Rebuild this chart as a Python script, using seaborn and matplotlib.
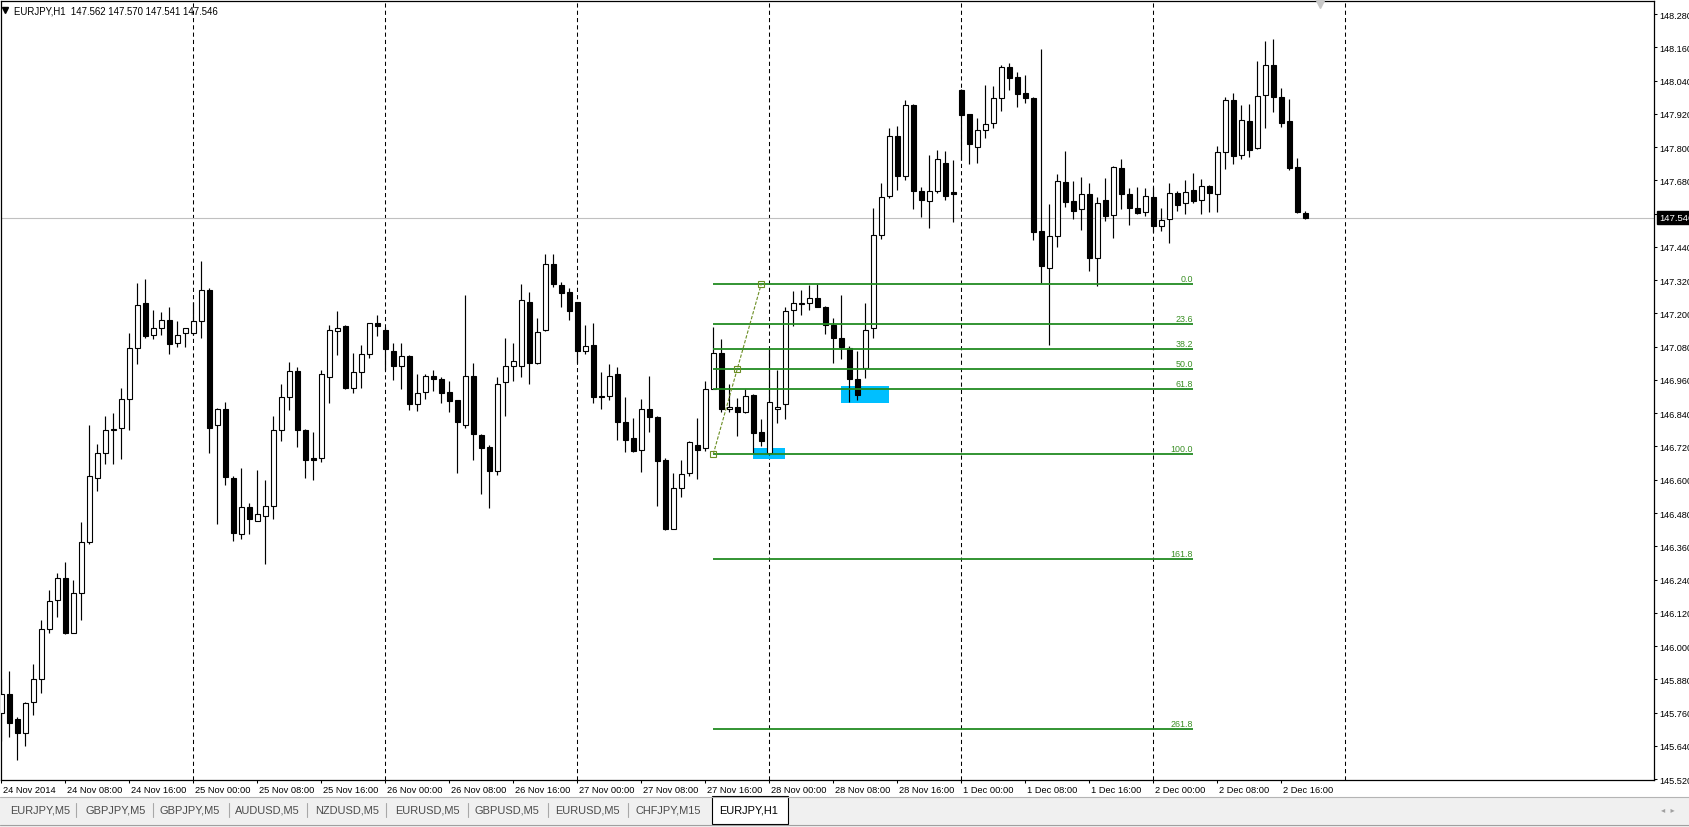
import matplotlib
matplotlib.use('Agg')
import matplotlib.pyplot as plt
import matplotlib.transforms as mtransforms
from matplotlib.patches import Rectangle
from matplotlib.lines import Line2D
import pandas as pd
import seaborn as sns

# EURJPY H1 candles, 24 Nov 2014 00:00 -> 2 Dec 19:00
opens = [145.757, 145.829, 145.737, 145.685, 145.797, 145.883, 146.060, 146.165, 146.244, 146.049,
         146.190, 146.376, 146.605, 146.695, 146.780, 146.785, 146.890, 147.074, 147.236, 147.121,
         147.149, 147.175, 147.092, 147.128, 147.128, 147.171, 147.283, 146.799, 146.854, 146.608,
         146.406, 146.500, 146.453, 146.471, 146.507, 146.778, 146.900, 146.991, 146.781, 146.677,
         146.677, 146.969, 147.135, 147.153, 146.932, 146.987, 147.052, 147.167, 147.142, 147.066,
         147.012, 147.048, 146.872, 146.915, 146.976, 146.962, 146.915, 146.886, 146.799, 146.973,
         146.763, 146.717, 146.630, 146.951, 147.009, 147.009, 147.240, 147.023, 147.139, 147.380,
         147.301, 147.276, 147.240, 147.066, 147.085, 146.902, 146.901, 146.980, 146.809, 146.749,
         146.708, 146.857, 146.826, 146.671, 146.424, 146.571, 146.623, 146.726, 146.713, 146.929,
         147.056, 146.856, 146.862, 146.845, 146.905, 146.772, 146.696, 146.854, 146.872, 147.211,
         147.235, 147.236, 147.254, 147.225, 147.157, 147.112, 147.074, 146.965, 147.004, 147.146,
         147.482, 147.622, 147.839, 147.695, 147.951, 147.640, 147.604, 147.643, 147.741, 147.637,
         148.005, 147.918, 147.799, 147.863, 147.888, 147.976, 148.088, 148.052, 147.994, 147.976,
         147.496, 147.363, 147.478, 147.673, 147.604, 147.575, 147.630, 147.401, 147.608, 147.556,
         147.723, 147.630, 147.579, 147.567, 147.619, 147.517, 147.542, 147.633, 147.597, 147.644,
         147.608, 147.658, 147.630, 147.781, 147.969, 147.770, 147.893, 147.796, 147.987, 148.095,
         147.980, 147.893, 147.727, 147.562]
highs = [145.881, 145.909, 145.743, 145.798, 145.935, 146.094, 146.202, 146.263, 146.303, 146.238,
         146.446, 146.797, 146.729, 146.830, 146.840, 146.931, 147.129, 147.309, 147.324, 147.214,
         147.204, 147.222, 147.171, 147.146, 147.243, 147.388, 147.290, 146.858, 146.882, 146.615,
         146.642, 146.516, 146.635, 146.599, 146.830, 146.945, 147.024, 147.005, 146.784, 146.772,
         146.995, 147.158, 147.208, 147.160, 147.057, 147.085, 147.167, 147.194, 147.150, 147.095,
         147.092, 147.050, 146.983, 146.980, 146.995, 146.969, 146.958, 146.888, 147.268, 147.023,
         146.766, 146.724, 146.969, 147.113, 147.092, 147.305, 147.279, 147.185, 147.414, 147.414,
         147.312, 147.291, 147.243, 147.158, 147.167, 146.987, 147.016, 147.005, 146.900, 146.821,
         146.893, 146.976, 146.829, 146.679, 146.626, 146.673, 146.740, 146.821, 146.958, 147.152,
         147.107, 146.945, 146.895, 146.926, 146.910, 146.819, 147.071, 146.997, 147.222, 147.281,
         147.284, 147.302, 147.305, 147.228, 147.182, 147.265, 147.083, 147.064, 147.237, 147.579,
         147.670, 147.869, 147.875, 147.970, 147.955, 147.655, 147.773, 147.788, 147.785, 147.752,
         148.010, 147.921, 147.904, 148.023, 148.019, 148.097, 148.105, 148.072, 148.059, 147.980,
         148.154, 147.595, 147.703, 147.786, 147.676, 147.691, 147.669, 147.619, 147.687, 147.733,
         147.756, 147.651, 147.655, 147.651, 147.655, 147.581, 147.669, 147.640, 147.680, 147.705,
         147.684, 147.665, 147.803, 147.980, 147.994, 147.951, 147.954, 148.109, 148.182, 148.189,
         148.012, 147.972, 147.759, 147.570]
lows = [145.656, 145.673, 145.590, 145.641, 145.752, 145.832, 146.048, 146.106, 146.042, 146.048,
        146.095, 146.370, 146.560, 146.658, 146.658, 146.674, 146.779, 147.018, 147.112, 147.109,
        147.122, 147.054, 147.080, 147.080, 147.122, 147.112, 146.697, 146.441, 146.582, 146.380,
        146.387, 146.405, 146.450, 146.297, 146.458, 146.741, 146.852, 146.719, 146.606, 146.600,
        146.665, 146.876, 147.051, 146.929, 146.914, 146.932, 147.040, 147.119, 146.997, 146.961,
        146.928, 146.852, 146.849, 146.892, 146.921, 146.878, 146.845, 146.625, 146.787, 146.672,
        146.548, 146.499, 146.618, 146.831, 146.957, 146.969, 146.946, 147.016, 147.136, 147.294,
        147.224, 147.178, 147.023, 147.052, 146.878, 146.856, 146.888, 146.744, 146.701, 146.701,
        146.629, 146.773, 146.506, 146.420, 146.421, 146.539, 146.612, 146.603, 146.702, 146.927,
        146.846, 146.843, 146.759, 146.842, 146.696, 146.723, 146.690, 146.806, 146.820, 147.154,
        147.193, 147.211, 147.222, 147.127, 147.022, 147.036, 146.881, 146.888, 146.968, 147.111,
        147.468, 147.615, 147.646, 147.680, 147.578, 147.549, 147.509, 147.636, 147.610, 147.531,
        147.755, 147.740, 147.744, 147.834, 147.870, 147.931, 148.007, 147.946, 147.958, 147.466,
        147.310, 147.087, 147.438, 147.583, 147.542, 147.502, 147.352, 147.298, 147.532, 147.473,
        147.578, 147.520, 147.560, 147.553, 147.495, 147.499, 147.455, 147.571, 147.560, 147.599,
        147.560, 147.567, 147.567, 147.720, 147.738, 147.756, 147.763, 147.793, 147.868, 147.925,
        147.871, 147.716, 147.562, 147.541]
closes = [145.829, 145.723, 145.687, 145.793, 145.883, 146.060, 146.161, 146.244, 146.048, 146.190,
          146.374, 146.612, 146.695, 146.781, 146.782, 146.893, 147.074, 147.232, 147.119, 147.148,
          147.178, 147.090, 147.123, 147.146, 147.171, 147.283, 146.787, 146.854, 146.611, 146.409,
          146.500, 146.457, 146.478, 146.507, 146.778, 146.900, 146.991, 146.780, 146.672, 146.672,
          146.980, 147.142, 147.149, 146.932, 146.987, 147.052, 147.164, 147.153, 147.070, 147.011,
          147.048, 146.874, 146.914, 146.973, 146.962, 146.914, 146.885, 146.809, 146.976, 146.766,
          146.715, 146.630, 146.947, 147.009, 147.027, 147.250, 147.023, 147.134, 147.380, 147.305,
          147.272, 147.207, 147.063, 147.083, 146.897, 146.899, 146.973, 146.809, 146.744, 146.705,
          146.857, 146.827, 146.668, 146.424, 146.571, 146.622, 146.735, 146.708, 146.926, 147.056,
          146.855, 146.864, 146.845, 146.903, 146.769, 146.741, 146.879, 146.864, 147.207, 147.236,
          147.237, 147.254, 147.225, 147.157, 147.112, 147.080, 146.965, 146.907, 147.139, 147.484,
          147.619, 147.839, 147.695, 147.951, 147.643, 147.610, 147.643, 147.758, 147.625, 147.630,
          147.917, 147.812, 147.860, 147.884, 147.976, 148.088, 148.050, 147.993, 147.976, 147.495,
          147.372, 147.480, 147.676, 147.603, 147.571, 147.630, 147.401, 147.597, 147.553, 147.727,
          147.630, 147.579, 147.563, 147.622, 147.517, 147.538, 147.633, 147.592, 147.637, 147.604,
          147.658, 147.633, 147.781, 147.969, 147.767, 147.897, 147.788, 147.983, 148.095, 147.980,
          147.886, 147.723, 147.565, 147.546]

time_labels = ['24 Nov 2014', '24 Nov 08:00', '24 Nov 16:00', '25 Nov 00:00', '25 Nov 08:00',
               '25 Nov 16:00', '26 Nov 00:00', '26 Nov 08:00', '26 Nov 16:00', '27 Nov 00:00',
               '27 Nov 08:00', '27 Nov 16:00', '28 Nov 00:00', '28 Nov 08:00', '28 Nov 16:00',
               '1 Dec 00:00', '1 Dec 08:00', '1 Dec 16:00', '2 Dec 00:00', '2 Dec 08:00', '2 Dec 16:00']
price_ticks = [145.52, 145.64, 145.76, 145.88, 146.00, 146.12, 146.24, 146.36, 146.48, 146.60,
               146.72, 146.84, 146.96, 147.08, 147.20, 147.32, 147.44, 147.56, 147.68, 147.80,
               147.92, 148.04, 148.16, 148.28]
day_starts = [24, 48, 72, 96, 120, 144, 168]

# fibonacci retracement (anchor bars / prices) and the two marked zones
fib_levels = [0.0, 23.6, 38.2, 50.0, 61.8, 100.0, 161.8, 261.8]
fib_low, fib_high = 146.693, 147.307
fib_bar_low, fib_bar_high, fib_bar_end = 89, 95, 149
zones = [(94, 98, 146.675, 146.714), (105, 111, 146.877, 146.938)]

last_price = 147.546
header = 'EURJPY,H1  147.562 147.570 147.541 147.546'
tab_names = ['EURJPY,M5', 'GBPJPY,M5', 'GBPJPY,M5', 'AUDUSD,M5', 'NZDUSD,M5',
             'EURUSD,M5', 'GBPUSD,M5', 'EURUSD,M5', 'CHFJPY,M15', 'EURJPY,H1']

df = pd.DataFrame({'open': opens, 'high': highs, 'low': lows, 'close': closes})
df['bar'] = range(len(df))
df['up'] = df['close'] >= df['open']
df['body_lo'] = df[['open', 'close']].min(axis=1)
df['body_h'] = (df['close'] - df['open']).abs().clip(lower=0.0015)

sns.set_theme(style='white')
plt.rcParams['font.family'] = ['Liberation Sans', 'DejaVu Sans']

W, H = 1690, 828
fig = plt.figure(figsize=(W / 100, H / 100), dpi=100)
fig.patch.set_facecolor('white')
ax = fig.add_axes([1 / W, 47 / H, 1653 / W, 779 / H])
ax.set_facecolor('white')

# day separators, current price line, zones
for d in day_starts:
    ax.axvline(d, color='black', lw=0.75, ls=(0, (4, 3)), zorder=1)
ax.axhline(last_price, color='#c0c0c0', lw=0.8, zorder=1)
for x0, x1, p0, p1 in zones:
    ax.add_patch(Rectangle((x0, p0), x1 - x0, p1 - p0, facecolor='#00bfff', lw=0, zorder=2))

# candles
ax.vlines(df['bar'], df['low'], df['high'], color='black', lw=0.85, zorder=3)
ax.bar(df['bar'], df['body_h'], bottom=df['body_lo'], width=0.56,
       color=['white' if u else 'black' for u in df['up']], edgecolor='black', linewidth=0.8, zorder=4)

# fibo
rng = fib_high - fib_low
for lvl in fib_levels:
    p = fib_high - lvl / 100 * rng
    ax.hlines(p, fib_bar_low, fib_bar_end, color='#228b22', lw=1.3, zorder=5)
    ax.text(fib_bar_end, p + 0.004, f'{lvl:.1f}', ha='right', va='bottom', fontsize=6.4,
            color='#3a8f24', zorder=6)
sns.lineplot(x=[fib_bar_low, fib_bar_high], y=[fib_low, fib_high], color='#6b8e23', lw=0.8,
             ls=(0, (3, 1.5)), ax=ax, zorder=6)
ax.plot([fib_bar_low, (fib_bar_low + fib_bar_high) / 2, fib_bar_high],
        [fib_low, (fib_low + fib_high) / 2, fib_high], ls='none', marker='s', ms=4,
        mfc='none', mec='#6b8e23', mew=0.8, zorder=7)

ax.set_xlim(-0.04, 206.59)
ax.set_ylim(145.517, 148.327)

ax.yaxis.tick_right()
ax.set_yticks(price_ticks)
ax.set_yticklabels([f'{v:.3f}' for v in price_ticks])
ax.set_xticks(range(0, 8 * len(time_labels), 8))
ax.set_xticklabels(time_labels)
ax.tick_params(axis='both', direction='out', length=2.5, width=0.75, color='black',
               labelcolor='black', labelsize=6.6, pad=1.5)
ax.tick_params(axis='x', bottom=True, labelsize=6.7, pad=0.8)
ax.tick_params(axis='y', right=True, left=False)
shift = mtransforms.ScaledTranslation(2 / 100, 0, fig.dpi_scale_trans)
for lbl in ax.get_xticklabels():
    lbl.set_horizontalalignment('left')
    lbl.set_transform(lbl.get_transform() + shift)
for s in ax.spines.values():
    s.set_color('black')
    s.set_linewidth(0.9)
ax.grid(False)

# current price tag on the axis
tag = mtransforms.blended_transform_factory(ax.transAxes, ax.transData)
ax.text(1.0 + 5 / 1653, last_price, f'{last_price:.3f}', transform=tag, ha='left', va='center',
        fontsize=6.8, color='white', zorder=10, clip_on=False,
        bbox=dict(boxstyle='square,pad=0.2', fc='black', ec='black'))

# header and chart-shift marker
fig.add_artist(Line2D([5 / W], [1 - 11 / H], marker='v', ms=4, color='black', transform=fig.transFigure))
fig.text(14 / W, 1 - 11 / H, header, fontsize=6.9, va='center', ha='left', color='black')
fig.add_artist(Line2D([1320 / W], [1 - 5 / H], marker='v', ms=6, color='#c8c8c8', transform=fig.transFigure))

# tab bar
fig.add_artist(Rectangle((0, 0), 1, 30 / H, transform=fig.transFigure, fc='#f0f0f0', ec='none'))
fig.add_artist(Line2D([0, 1], [30 / H, 30 / H], color='#b4b4b4', lw=0.8, transform=fig.transFigure))
fig.add_artist(Line2D([0, 1], [2 / H, 2 / H], color='#a0a0a0', lw=0.8, transform=fig.transFigure))
fig.add_artist(Rectangle((712 / W, 3 / H), 76 / W, 28 / H, transform=fig.transFigure,
                         fc='white', ec='black', lw=0.8))
tab_x = [40, 116, 190, 267, 347, 427, 507, 587, 668, 749]
for k, (name, x) in enumerate(zip(tab_names, tab_x)):
    fig.text(x / W, 17 / H, name, fontsize=7.9, ha='center', va='center',
             color='black' if k == len(tab_names) - 1 else '#4a4a4a')
for x in [76, 153, 229, 307, 386, 468, 548, 628]:
    fig.add_artist(Line2D([x / W, x / W], [10 / H, 24 / H], color='#a8a8a8', lw=0.8,
                          transform=fig.transFigure))
fig.text(1668 / W, 17 / H, '\u25c2  \u25b8', fontsize=6, ha='center', va='center', color='#a0a0a0',
         family=['DejaVu Sans'])

fig.savefig('out.png', dpi=100)
